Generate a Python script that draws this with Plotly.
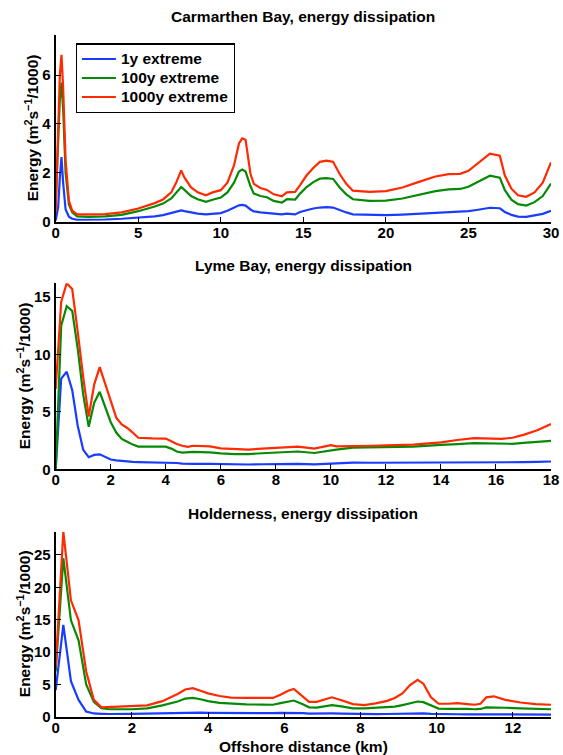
import plotly.graph_objects as go

# ---- Carmarthen Bay ----
carm_km = [0, 0.15, 0.25, 0.35, 0.45, 0.6, 0.8, 1.0, 1.3, 2,
           3, 4, 5, 6, 6.5, 7, 7.3, 7.6, 7.8, 8.2,
           8.6, 9.1, 9.5, 10, 10.4, 10.8, 11.1, 11.3, 11.5, 11.8,
           12.0, 12.4, 12.8, 13.2, 13.7, 14.0, 14.5, 14.8, 15.2, 15.6,
           16.0, 16.4, 16.8, 17.2, 17.6, 18.0, 19, 20, 21, 22,
           23, 23.8, 24.5, 25, 25.5, 26.0, 26.3, 26.9, 27.2, 27.6,
           28, 28.5, 29, 29.5, 30]
carm_1y = [0.05, 0.6, 1.8, 2.64, 1.6, 0.5, 0.2, 0.12, 0.08, 0.08,
           0.09, 0.12, 0.16, 0.22, 0.27, 0.35, 0.42, 0.46, 0.43, 0.37,
           0.33, 0.3, 0.32, 0.35, 0.45, 0.58, 0.67, 0.69, 0.66, 0.5,
           0.42, 0.38, 0.36, 0.32, 0.3, 0.33, 0.3, 0.4, 0.48, 0.54,
           0.58, 0.6, 0.58, 0.47, 0.38, 0.3, 0.27, 0.27, 0.29, 0.32,
           0.35, 0.38, 0.4, 0.43, 0.48, 0.54, 0.57, 0.55, 0.4, 0.28,
           0.21, 0.2, 0.25, 0.32, 0.45]
carm_100y = [0.75, 3.0, 5.0, 5.69, 4.6, 2.0, 0.7, 0.38, 0.22, 0.2,
             0.22, 0.28, 0.43, 0.62, 0.74, 0.95, 1.2, 1.42, 1.3, 1.05,
             0.92, 0.81, 0.9, 0.99, 1.2, 1.6, 2.05, 2.13, 2.05, 1.45,
             1.15, 1.05, 1.0, 0.85, 0.78, 0.92, 0.9, 1.15, 1.42, 1.62,
             1.76, 1.78, 1.75, 1.4, 1.12, 0.92, 0.85, 0.86, 0.95, 1.11,
             1.25, 1.32, 1.34, 1.43, 1.6, 1.8, 1.88, 1.8, 1.3, 0.9,
             0.72, 0.66, 0.8, 1.05, 1.56]
carm_1000y = [0.4, 3.5, 6.0, 6.83, 5.5, 2.5, 0.85, 0.45, 0.3, 0.3,
              0.31, 0.38, 0.54, 0.76, 0.91, 1.2, 1.6, 2.1, 1.8, 1.4,
              1.2, 1.08, 1.2, 1.29, 1.6, 2.3, 3.2, 3.41, 3.35, 1.95,
              1.55, 1.38, 1.3, 1.12, 1.04, 1.2, 1.22, 1.5, 1.9, 2.2,
              2.45, 2.5, 2.45, 1.95, 1.55, 1.27, 1.22, 1.25, 1.4, 1.63,
              1.85, 1.95, 1.96, 2.08, 2.35, 2.65, 2.78, 2.7, 1.9, 1.35,
              1.08, 1.02, 1.2, 1.6, 2.43]

# ---- Lyme Bay ----
lyme_km = [0, 0.2, 0.4, 0.6, 0.8, 1.0, 1.2, 1.4, 1.6, 1.8,
           2.0, 2.2, 2.4, 2.6, 2.8, 3.0, 3.5, 4.0, 4.2, 4.4,
           4.6, 4.8, 5.0, 5.6, 6.0, 6.5, 7.0, 7.5, 8.0, 8.8,
           9.4, 10.0, 10.2, 10.8, 11.5, 12, 13, 14, 14.4, 14.6,
           15.2, 16.2, 16.6, 17, 17.5, 18]
lyme_1y = [0.0, 7.9, 8.5, 6.9, 3.8, 1.7, 1.05, 1.25, 1.3, 1.05,
           0.85, 0.78, 0.72, 0.68, 0.65, 0.63, 0.62, 0.6, 0.58, 0.55,
           0.5, 0.48, 0.48, 0.48, 0.45, 0.43, 0.42, 0.44, 0.46, 0.47,
           0.43, 0.5, 0.52, 0.58, 0.57, 0.57, 0.58, 0.6, 0.6, 0.6,
           0.62, 0.6, 0.6, 0.62, 0.65, 0.68]
lyme_100y = [0.0, 12.5, 14.2, 13.8, 10.5, 6.5, 3.7, 5.8, 6.75, 5.5,
             4.1, 3.2, 2.65, 2.4, 2.15, 1.98, 1.97, 1.97, 1.8, 1.55,
             1.45, 1.5, 1.52, 1.48, 1.38, 1.33, 1.32, 1.4, 1.48, 1.55,
             1.42, 1.65, 1.72, 1.88, 1.9, 1.9, 1.98, 2.12, 2.15, 2.2,
             2.28, 2.2, 2.22, 2.3, 2.4, 2.48]
lyme_1000y = [7.0, 14.6, 16.2, 15.7, 12.0, 8.0, 4.6, 7.4, 8.9, 7.5,
              6.0, 4.5, 3.9, 3.6, 3.2, 2.75, 2.7, 2.68, 2.45, 2.2,
              2.05, 1.95, 2.05, 2.0, 1.82, 1.75, 1.72, 1.8, 1.88, 1.98,
              1.8, 2.1, 2.0, 2.05, 2.05, 2.08, 2.15, 2.35, 2.45, 2.55,
              2.72, 2.65, 2.75, 3.0, 3.4, 3.95]

# ---- Holderness ----
hold_km = [0, 0.2, 0.4, 0.6, 0.8, 1.0, 1.2, 1.4, 2.0, 2.4,
           2.8, 3.0, 3.2, 3.4, 3.6, 3.8, 4.0, 4.3, 4.6, 5.0,
           5.4, 5.7, 5.9, 6.1, 6.25, 6.5, 6.65, 6.85, 7.05, 7.25,
           7.5, 7.8, 8.1, 8.4, 8.7, 8.9, 9.1, 9.3, 9.5, 9.65,
           9.85, 10.05, 10.3, 10.55, 10.8, 11.0, 11.15, 11.3, 11.5, 11.8,
           12.2, 12.6, 13.0]
hold_1y = [4.1, 14.2, 5.5, 2.6, 0.8, 0.5, 0.45, 0.42, 0.45, 0.5,
           0.55, 0.6, 0.62, 0.65, 0.65, 0.62, 0.6, 0.58, 0.55, 0.55,
           0.55, 0.55, 0.58, 0.6, 0.62, 0.55, 0.48, 0.45, 0.48, 0.5,
           0.48, 0.42, 0.4, 0.4, 0.42, 0.44, 0.48, 0.52, 0.55, 0.52,
           0.45, 0.4, 0.38, 0.38, 0.37, 0.36, 0.36, 0.4, 0.4, 0.38,
           0.36, 0.35, 0.33]
hold_100y = [7.0, 24.5, 14.9, 11.8, 5.0, 2.3, 1.3, 1.15, 1.15, 1.3,
             1.75, 2.0, 2.35, 2.8, 2.9, 2.7, 2.4, 2.15, 2.0, 1.9,
             1.88, 1.85, 2.1, 2.35, 2.5, 1.9, 1.45, 1.4, 1.6, 1.8,
             1.6, 1.3, 1.3, 1.38, 1.45, 1.55, 1.8, 2.1, 2.35, 2.25,
             1.75, 1.25, 1.2, 1.25, 1.2, 1.15, 1.2, 1.45, 1.45, 1.38,
             1.3, 1.2, 1.15]
hold_1000y = [7.7, 28.6, 18.0, 14.9, 7.0, 2.6, 1.45, 1.5, 1.55, 1.75,
              2.4, 2.9, 3.5, 4.2, 4.4, 4.0, 3.6, 3.2, 2.95, 2.9,
              2.95, 2.9, 3.4, 4.0, 4.3, 3.0, 2.3, 2.3, 2.6, 3.0,
              2.55, 1.95, 1.8, 2.05, 2.45, 2.9, 3.6, 4.9, 5.7, 5.1,
              3.0, 2.0, 2.0, 2.1, 1.95, 1.85, 2.0, 3.0, 3.15, 2.6,
              2.2, 1.95, 1.85]

series_names = ["1y extreme", "100y extreme", "1000y extreme"]
series_colors = ["#1a3cff", "#068a06", "#ff2a00"]

W, H = 563, 755
XDOM = [55.7 / W, 551 / W]


def py(px):
    """Pixel row (from top) to paper y."""
    return 1 - px / H


panels = [
    dict(title="Carmarthen Bay, energy dissipation", x=carm_km,
         ys=[carm_1y, carm_100y, carm_1000y], xrange=[0, 30], xdtick=5,
         yrange=[0, 7.64], ytickvals=[0, 2, 4, 6], top=35, bottom=221.7,
         title_px=17, ylab_px=32),
    dict(title="Lyme Bay, energy dissipation", x=lyme_km,
         ys=[lyme_1y, lyme_100y, lyme_1000y], xrange=[0, 18], xdtick=2,
         yrange=[0, 16.2], ytickvals=[0, 5, 10, 15], top=283.3, bottom=469.3,
         title_px=265, ylab_px=24),
    dict(title="Holderness, energy dissipation", x=hold_km,
         ys=[hold_1y, hold_100y, hold_1000y], xrange=[0, 13], xdtick=2,
         yrange=[0, 28.6], ytickvals=[0, 5, 10, 15, 20, 25], top=531.7, bottom=716.7,
         title_px=513, ylab_px=24),
]

FONT = "Liberation Sans, Arial, Helvetica, sans-serif"
YLABEL = "<b>Energy (m<sup>2</sup>s<sup>\u22121</sup>/1000)</b>"

fig = go.Figure()
annotations = []
layout = {}

for i, p in enumerate(panels):
    n = "" if i == 0 else str(i + 1)
    for name, color, y in zip(series_names, series_colors, p["ys"]):
        fig.add_trace(go.Scatter(
            x=p["x"], y=y, mode="lines",
            name='<span style="font-size:15.5px">' + name + "</span>",
            line=dict(color=color, width=2.2),
            showlegend=(i == 0),
            xaxis="x" + n, yaxis="y" + n,
        ))
    axis_common = dict(
        showline=True, linecolor="black", linewidth=2,
        ticks="inside", ticklen=5, tickwidth=1.2, tickcolor="black",
        showgrid=False, zeroline=False, mirror=False,
        tickfont=dict(family=FONT, size=15, color="black", weight="bold"),
    )
    ydom = [py(p["bottom"]), py(p["top"])]
    layout["xaxis" + n] = dict(
        domain=XDOM, anchor="y" + n, range=p["xrange"],
        tickmode="linear", tick0=0, dtick=p["xdtick"],
        ticklabelstandoff=-4, **axis_common,
    )
    layout["yaxis" + n] = dict(
        domain=ydom, anchor="x" + n, range=p["yrange"],
        tickvals=p["ytickvals"], **axis_common,
    )
    # panel title
    annotations.append(dict(
        text="<b>" + p["title"] + "</b>", xref="paper", yref="paper",
        x=(XDOM[0] + XDOM[1]) / 2, y=py(p["title_px"]),
        xanchor="center", yanchor="middle", showarrow=False,
        font=dict(family=FONT, size=15.5, color="black"),
    ))
    # y-axis label
    annotations.append(dict(
        text=YLABEL, xref="paper", yref="paper",
        x=p["ylab_px"] / W, y=(ydom[0] + ydom[1]) / 2, textangle=-90,
        xanchor="center", yanchor="middle", showarrow=False,
        font=dict(family=FONT, size=15.5, color="black"),
    ))

# x-axis label under the bottom panel
annotations.append(dict(
    text="<b>Offshore distance (km)</b>", xref="paper", yref="paper",
    x=(XDOM[0] + XDOM[1]) / 2, y=py(746), xanchor="center", yanchor="middle",
    showarrow=False, font=dict(family=FONT, size=15.5, color="black"),
))

fig.update_layout(
    width=W, height=H,
    margin=dict(l=0, r=0, t=0, b=0, autoexpand=False),
    paper_bgcolor="white", plot_bgcolor="white",
    annotations=annotations,
    legend=dict(
        x=75.7 / W, y=py(43.3), xanchor="left", yanchor="top",
        bordercolor="black", borderwidth=1.2, bgcolor="white",
        font=dict(family=FONT, size=12, color="black", weight="bold"),
        tracegroupgap=0, itemwidth=34,
    ),
    **layout,
)

fig.write_html("out.html")
